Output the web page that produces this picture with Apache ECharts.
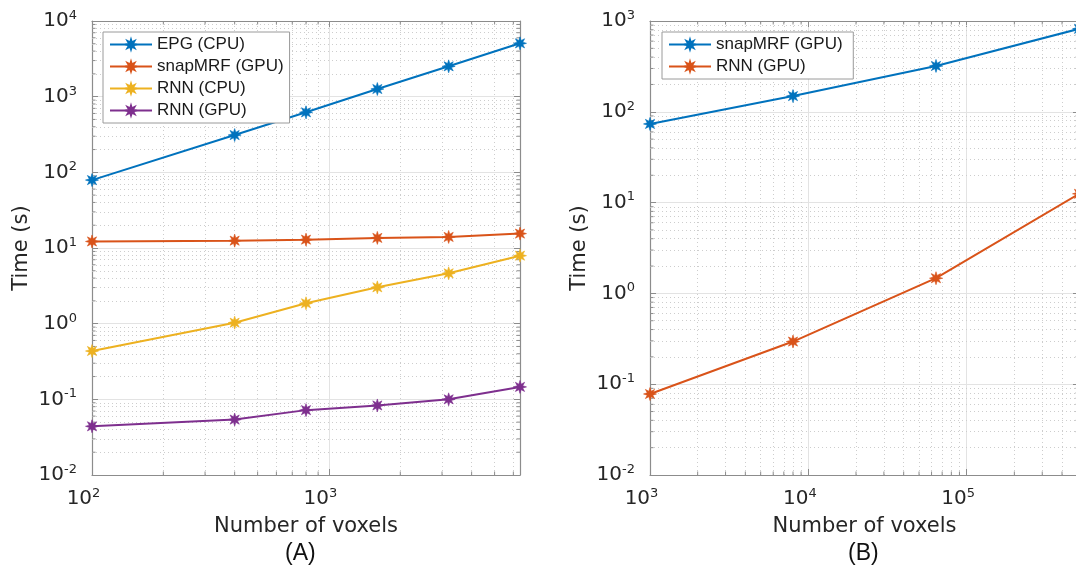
<!DOCTYPE html>
<html>
<head>
<meta charset="utf-8">
<script src="https://cdn.jsdelivr.net/npm/echarts@6/dist/echarts.min.js"></script>
<style>
html,body{margin:0;padding:0;background:#fff;}
#c{width:1076px;height:569px;}
</style>
</head>
<body>
<div id="c"></div>
<script>
// ---------- data ----------
const xA = [100, 400, 800, 1600, 3200, 6400];
const epgCPU = [79, 311, 621, 1262, 2518, 5070];
const snapGPU_A = [12.2, 12.5, 12.9, 13.6, 14.0, 15.5];
const rnnCPU_A = [0.435, 1.03, 1.86, 3.02, 4.63, 7.92];
const rnnGPU_A = [0.044, 0.054, 0.072, 0.083, 0.100, 0.146];

const xB = [1000, 8000, 64000, 512000];
const snapGPU_B = [73.5, 149, 320, 820];
const rnnGPU_B = [0.078, 0.295, 1.47, 12.5];

const namesA = ['EPG (CPU)', 'snapMRF (GPU)', 'RNN (CPU)', 'RNN (GPU)'];
const namesB = ['snapMRF (GPU)', 'RNN (GPU)'];
const yRangeA = [0.01, 10000];
const yRangeB = [0.01, 1000];

// ---------- styles ----------
const C_BLUE = '#0072BD', C_ORANGE = '#D95319', C_YELLOW = '#EDB120', C_PURPLE = '#7E2F8E';
const AXIS_COL = '#8c8c8c';
const TXT = '#262626';

function starPath() {
  const pts = [];
  for (let i = 0; i < 16; i++) {
    const a = i * Math.PI / 8 - Math.PI / 2;
    const r = i % 2 === 0 ? 10 : 4.6;
    pts.push((10 + r * Math.cos(a)).toFixed(3) + ',' + (10 + r * Math.sin(a)).toFixed(3));
  }
  return 'path://M' + pts.join('L') + 'Z';
}
const STAR = starPath();

function minorValues(lo, hi) {
  const out = [];
  for (let e = Math.floor(Math.log10(lo)); e <= Math.ceil(Math.log10(hi)); e++) {
    for (let m = 2; m <= 9; m++) {
      const v = m * Math.pow(10, e);
      if (v > lo * 1.0001 && v < hi * 0.9999) out.push(v);
    }
  }
  return out;
}

function powLabel(v) {
  const e = Math.round(Math.log10(v));
  if (Math.abs(v - Math.pow(10, e)) / v > 1e-6) return '';
  return '10{sup|' + e + '}';
}

const labelRich = {
  sup: { fontSize: 13, lineHeight: 13, verticalAlign: 'top', fontFamily: 'DejaVu Sans', color: TXT }
};

function xAxisPair(gi, lo, hi) {
  return [{
    gridIndex: gi, type: 'log', logBase: 10, min: lo, max: hi, position: 'bottom',
    name: 'Number of voxels', nameLocation: 'middle', nameGap: 38,
    nameTextStyle: { fontFamily: 'DejaVu Sans', fontSize: 21, color: TXT },
    axisLine: { show: true, lineStyle: { color: AXIS_COL, width: 1.2 } },
    axisTick: { show: true, inside: true, length: 6, lineStyle: { color: AXIS_COL } },
    axisLabel: {
      show: true, margin: 12, formatter: powLabel, showMaxLabel: false,
      fontFamily: 'DejaVu Sans', fontSize: 20, lineHeight: 24, color: TXT,
      padding: [0, 17, 0, 0], rich: labelRich
    },
    splitLine: { show: true, lineStyle: { color: '#e3e3e3', width: 1 } }
  }, {
    gridIndex: gi, type: 'log', logBase: 10, min: lo, max: hi, position: 'top',
    axisLine: { show: true, lineStyle: { color: AXIS_COL, width: 1.2 } },
    axisTick: { show: true, inside: true, length: 6, lineStyle: { color: AXIS_COL } },
    axisLabel: { show: false }, splitLine: { show: false }
  }];
}

function yAxisPair(gi, lo, hi) {
  return [{
    gridIndex: gi, type: 'log', logBase: 10, min: lo, max: hi, position: 'left',
    name: 'Time (s)', nameLocation: 'middle', nameGap: 60,
    nameTextStyle: { fontFamily: 'DejaVu Sans', fontSize: 21, color: TXT },
    axisLine: { show: true, lineStyle: { color: AXIS_COL, width: 1.2 } },
    axisTick: { show: true, inside: true, length: 6, lineStyle: { color: AXIS_COL } },
    axisLabel: {
      show: true, margin: 15, formatter: powLabel,
      fontFamily: 'DejaVu Sans', fontSize: 20, lineHeight: 24, color: TXT, rich: labelRich
    },
    splitLine: { show: true, lineStyle: { color: '#e3e3e3', width: 1 } }
  }, {
    gridIndex: gi, type: 'log', logBase: 10, min: lo, max: hi, position: 'right',
    axisLine: { show: true, lineStyle: { color: AXIS_COL, width: 1.2 } },
    axisTick: { show: true, inside: true, length: 6, lineStyle: { color: AXIS_COL } },
    axisLabel: { show: false }, splitLine: { show: false }
  }];
}

function lineSeries(name, xs, ys, color, xi, yi) {
  return {
    type: 'line', name: name, xAxisIndex: xi, yAxisIndex: yi,
    data: xs.map((x, i) => [x, ys[i]]),
    symbol: STAR, symbolSize: 13, showAllSymbol: true,
    lineStyle: { color: color, width: 2 },
    itemStyle: { color: color, borderColor: color, borderWidth: 0.6 },
    emphasis: { disabled: true }, animation: false, z: 5
  };
}

function gridSeries(xi, yi, xr, yr) {
  const data = [];
  minorValues(xr[0], xr[1]).forEach(v => data.push({ xAxis: v }));
  minorValues(yr[0], yr[1]).forEach(v => data.push({ yAxis: v }));
  return {
    type: 'line', xAxisIndex: xi, yAxisIndex: yi, data: [], silent: true, z: 1,
    markLine: {
      silent: true, symbol: 'none', animation: false, z: 1,
      label: { show: false },
      lineStyle: { color: '#cdcdcd', width: 1, type: [1, 3] },
      emphasis: { disabled: true },
      data: data
    }
  };
}

// minor tick marks on all four borders
function minorTickSeries(xi, yi, xr, yr) {
  const data = [];
  minorValues(xr[0], xr[1]).forEach(v => data.push([v, yr[0], 0]));
  minorValues(yr[0], yr[1]).forEach(v => data.push([xr[0], v, 1]));
  return {
    type: 'custom', xAxisIndex: xi, yAxisIndex: yi, silent: true, z: 3, clip: false,
    data: data,
    renderItem: function (params, api) {
      const L = 3.5;
      const st = { stroke: AXIS_COL, lineWidth: 1 };
      if (api.value(2) === 0) {
        const p1 = api.coord([api.value(0), yr[0]]);
        const p2 = api.coord([api.value(0), yr[1]]);
        return { type: 'group', children: [
          { type: 'line', shape: { x1: p1[0], y1: p1[1], x2: p1[0], y2: p1[1] - L }, style: st },
          { type: 'line', shape: { x1: p2[0], y1: p2[1], x2: p2[0], y2: p2[1] + L }, style: st }
        ] };
      } else {
        const p1 = api.coord([xr[0], api.value(1)]);
        const p2 = api.coord([xr[1], api.value(1)]);
        return { type: 'group', children: [
          { type: 'line', shape: { x1: p1[0], y1: p1[1], x2: p1[0] + L, y2: p1[1] }, style: st },
          { type: 'line', shape: { x1: p2[0], y1: p2[1], x2: p2[0] - L, y2: p2[1] }, style: st }
        ] };
      }
    }
  };
}

const legendCommon = {
  orient: 'vertical', backgroundColor: '#fff', borderColor: '#9a9a9a', borderWidth: 1,
  itemWidth: 42, itemHeight: 12, itemGap: 5, padding: [4, 6, 4, 6], borderRadius: 0,
  textStyle: { fontFamily: 'Liberation Sans', fontSize: 17, color: '#1a1a1a' },
  selectedMode: false, z: 50, zlevel: 0
};

const chart = echarts.init(document.getElementById('c'), null, { renderer: 'canvas' });
chart.setOption({
  animation: false,
  backgroundColor: '#fff',
  grid: [
    { left: 92, top: 21, width: 428, height: 454, containLabel: false, outerBoundsMode: 'none' },
    { left: 650, top: 21, width: 429, height: 454, containLabel: false, outerBoundsMode: 'none' }
  ],
  xAxis: [].concat(xAxisPair(0, xA[0], xA[xA.length - 1]), xAxisPair(1, xB[0], xB[xB.length - 1])),
  yAxis: [].concat(yAxisPair(0, yRangeA[0], yRangeA[1]), yAxisPair(1, yRangeB[0], yRangeB[1])),
  legend: [
    Object.assign({}, legendCommon, { left: 103, top: 32, data: namesA.map(n => ({ name: n })) }),
    Object.assign({}, legendCommon, { left: 662, top: 32, data: namesB.map(n => ({ name: n + ' ' })) })
  ],
  series: [
    gridSeries(0, 0, [xA[0], xA[xA.length - 1]], yRangeA),
    gridSeries(2, 2, [xB[0], xB[xB.length - 1]], yRangeB),
    minorTickSeries(0, 0, [xA[0], xA[xA.length - 1]], yRangeA),
    minorTickSeries(2, 2, [xB[0], xB[xB.length - 1]], yRangeB),
    lineSeries(namesA[0], xA, epgCPU, C_BLUE, 0, 0),
    lineSeries(namesA[1], xA, snapGPU_A, C_ORANGE, 0, 0),
    lineSeries(namesA[2], xA, rnnCPU_A, C_YELLOW, 0, 0),
    lineSeries(namesA[3], xA, rnnGPU_A, C_PURPLE, 0, 0),
    // panel B series (names padded with a space to keep them distinct from panel A)
    lineSeries(namesB[0] + ' ', xB, snapGPU_B, C_BLUE, 2, 2),
    lineSeries(namesB[1] + ' ', xB, rnnGPU_B, C_ORANGE, 2, 2)
  ],
  graphic: [
    { type: 'text', left: 285, top: 542, style: { text: '(A)', font: '23px "Liberation Sans"', fill: '#111' } },
    { type: 'text', left: 848, top: 542, style: { text: '(B)', font: '23px "Liberation Sans"', fill: '#111' } }
  ]
});
</script>
</body>
</html>
